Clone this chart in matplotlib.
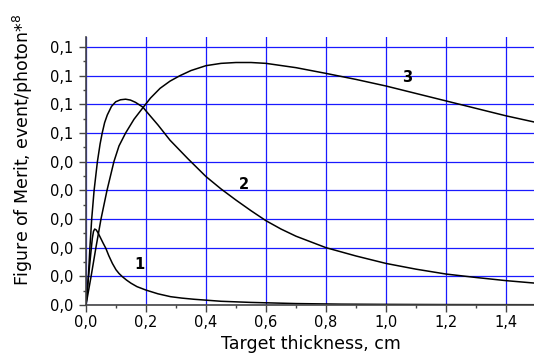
import numpy as np
import matplotlib
matplotlib.use('Agg')
import matplotlib.pyplot as plt
from matplotlib.ticker import MultipleLocator

plt.rcParams['font.family'] = ['DejaVu Sans']

# curve 1
x1 = [0, 0.008, 0.016, 0.021, 0.025, 0.029, 0.034, 0.04, 0.049, 0.057, 0.066, 0.076,
      0.088, 0.1, 0.11, 0.121, 0.135, 0.15, 0.17, 0.2, 0.24, 0.282, 0.32, 0.36, 0.45,
      0.55, 0.7, 0.85, 1.0, 1.2, 1.5]
y1 = [0, 0.0095, 0.018, 0.0232, 0.0257, 0.0265, 0.0262, 0.0252, 0.0233, 0.0216,
      0.0198, 0.0172, 0.0145, 0.0123, 0.0110, 0.0099, 0.0087, 0.0076, 0.0064, 0.0052,
      0.0039, 0.0029, 0.0024, 0.0020, 0.0013, 0.0009, 0.0005, 0.0003, 0.00022,
      0.00015, 0.0001]

# curve 2
x2 = [0, 0.008, 0.013, 0.019, 0.027, 0.038, 0.047, 0.054, 0.062, 0.071, 0.085, 0.099,
      0.115, 0.132, 0.148, 0.165, 0.19, 0.2, 0.24, 0.28, 0.34, 0.4, 0.45, 0.5, 0.55,
      0.6, 0.65, 0.7, 0.8, 0.9, 1.0, 1.1, 1.2, 1.3, 1.4, 1.5]
y2 = [0, 0.01, 0.02, 0.03, 0.04, 0.05, 0.0562, 0.06, 0.0636, 0.0663, 0.0693, 0.0709,
      0.0716, 0.0718, 0.0715, 0.0707, 0.0690, 0.0677, 0.0628, 0.0575, 0.0510, 0.0448,
      0.0405, 0.0366, 0.0329, 0.0294, 0.0265, 0.0240, 0.0200, 0.0171, 0.0145, 0.0125,
      0.0108, 0.0096, 0.0085, 0.0076]

# curve 3
x3 = [0, 0.017, 0.033, 0.05, 0.07, 0.093, 0.11, 0.132, 0.16, 0.188, 0.215, 0.247,
      0.28, 0.313, 0.35, 0.4, 0.45, 0.5, 0.55, 0.6, 0.7, 0.8, 0.9, 1.0, 1.1, 1.2,
      1.3, 1.4, 1.5]
y3 = [0, 0.01, 0.02, 0.03, 0.04, 0.05, 0.0555, 0.06, 0.0648, 0.0686, 0.0722, 0.0756,
      0.0781, 0.0800, 0.0818, 0.0835, 0.0843, 0.0846, 0.0846, 0.0843, 0.0828, 0.0808,
      0.0787, 0.0764, 0.0738, 0.0712, 0.0686, 0.0660, 0.0637]

xticks = [0.0, 0.2, 0.4, 0.6, 0.8, 1.0, 1.2, 1.4]
xtick_labels = ['0,0', '0,2', '0,4', '0,6', '0,8', '1,0', '1,2', '1,4']
yticks = [0.0, 0.01, 0.02, 0.03, 0.04, 0.05, 0.06, 0.07, 0.08, 0.09]
ytick_labels = ['0,0', '0,0', '0,0', '0,0', '0,0', '0,0', '0,1', '0,1', '0,1', '0,1']

fig = plt.figure(figsize=(5.34, 3.54), dpi=100)
ax = fig.add_axes([86/534, 49/354, 450/534, 268/354])

ax.plot(x1, y1, color='black', lw=1.1)
ax.plot(x2, y2, color='black', lw=1.1)
ax.plot(x3, y3, color='black', lw=1.1)

ax.text(0.178, 0.014, '1', fontsize=10.5, fontweight='bold', ha='center', va='center')
ax.text(0.527, 0.0422, '2', fontsize=10.5, fontweight='bold', ha='center', va='center')
ax.text(1.069, 0.0793, '3', fontsize=10.5, fontweight='bold', ha='center', va='center')

ax.set_xlim(0, 1.5)
ax.set_ylim(0, 0.0935)
ax.set_xticks(xticks)
ax.set_xticklabels(xtick_labels)
ax.set_yticks(yticks)
ax.set_yticklabels(ytick_labels)
ax.xaxis.set_minor_locator(MultipleLocator(0.1))
ax.yaxis.set_minor_locator(MultipleLocator(0.005))
ax.tick_params(which='major', direction='out', length=5, width=1, labelsize=10.5,
               color='#444444', labelcolor='black')
ax.tick_params(axis='x', which='major', pad=2)
ax.tick_params(axis='y', which='major', pad=4)
ax.tick_params(which='minor', direction='out', length=2.5, width=1, color='#444444')

ax.grid(True, which='major', color='#1a1aff', lw=0.9)
ax.set_axisbelow(True)
for s in ['top', 'right']:
    ax.spines[s].set_visible(False)
for s in ['left', 'bottom']:
    ax.spines[s].set_color('#444444')
    ax.spines[s].set_linewidth(1.2)

fig.text(311/534, 1 - 344/354, 'Target thickness, cm', fontsize=12.5,
         ha='center', va='center')
fig.text(23/534, 1 - 150/354, 'Figure of Merit, event/photon*$^{8}$', fontsize=12.5,
         rotation=90, ha='center', va='center')

fig.savefig('out.png', dpi=100)
